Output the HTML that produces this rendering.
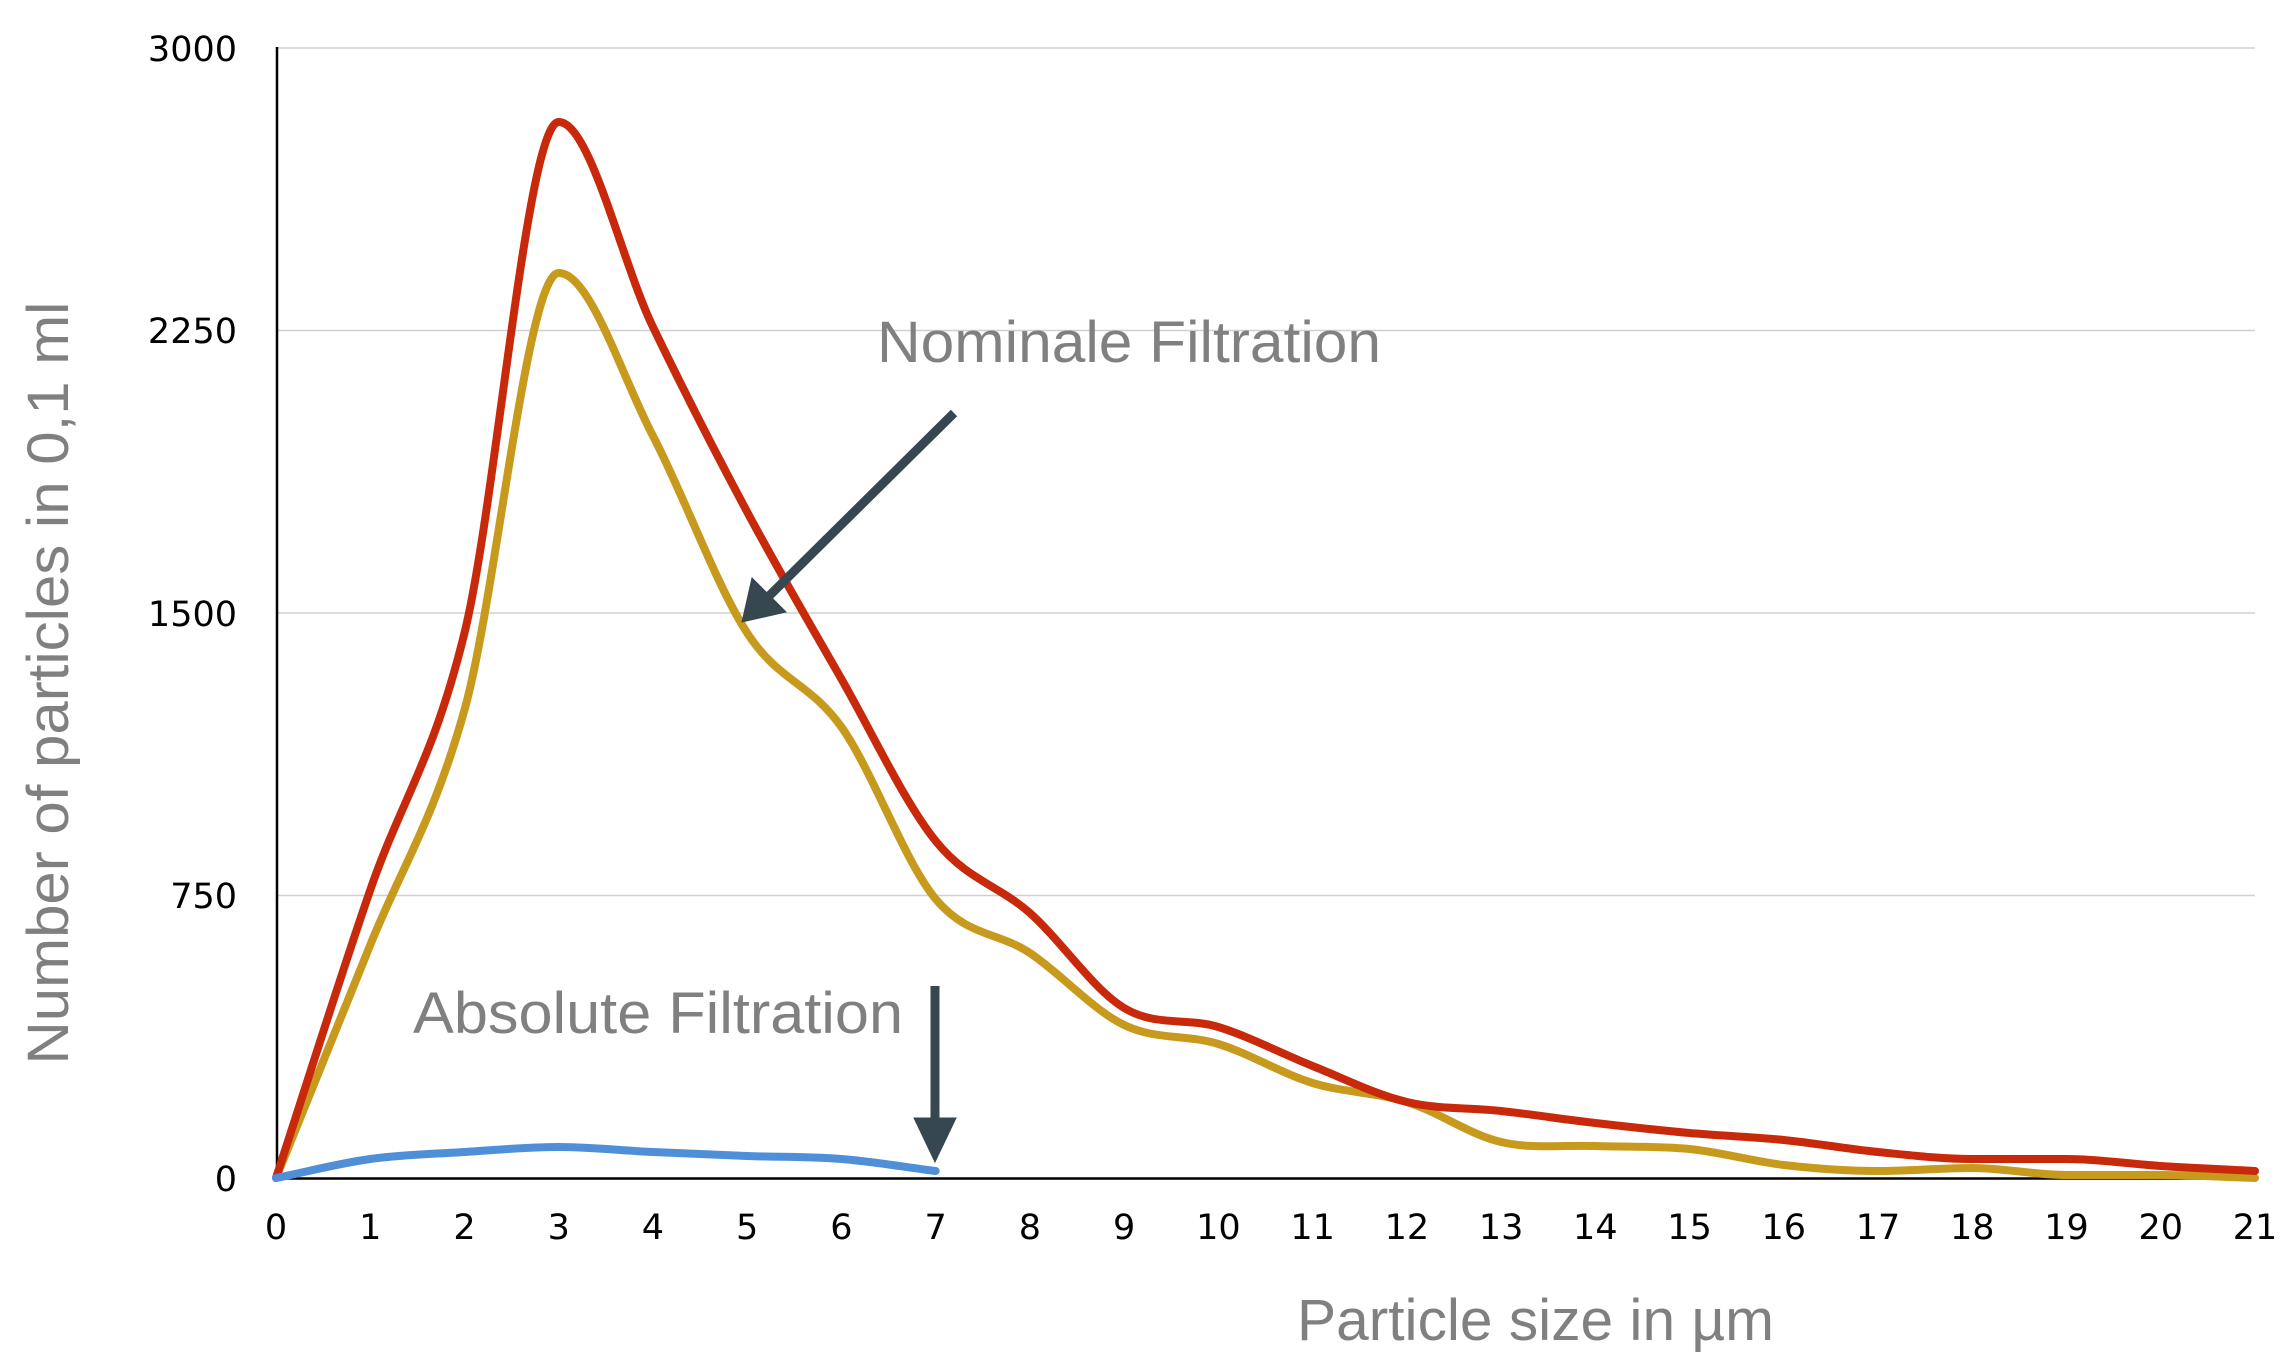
<!DOCTYPE html>
<html><head><meta charset="utf-8"><style>
html,body{margin:0;padding:0;background:#fff;}
svg{display:block;}
</style></head><body>
<svg id="s" width="2280" height="1372" viewBox="0 0 2280 1372" xmlns="http://www.w3.org/2000/svg">
<g stroke="#d0d0d0" stroke-width="1.5">
<line x1="276" y1="48" x2="2255" y2="48"/>
<line x1="276" y1="330.5" x2="2255" y2="330.5"/>
<line x1="276" y1="613" x2="2255" y2="613"/>
<line x1="276" y1="895.5" x2="2255" y2="895.5"/>
</g>
<line x1="277" y1="47" x2="277" y2="1179" stroke="#000" stroke-width="2.5"/>
<line x1="276" y1="1178.5" x2="2256" y2="1178.5" stroke="#000" stroke-width="2.5"/>
<g font-family="DejaVu Sans, sans-serif" font-size="35" fill="#000" text-anchor="end">
<text x="237" y="61">3000</text>
<text x="237" y="343">2250</text>
<text x="237" y="626">1500</text>
<text x="237" y="908">750</text>
<text x="237" y="1191">0</text>
</g>
<g id="xt" font-family="DejaVu Sans, sans-serif" font-size="35" fill="#000" text-anchor="middle"></g>
<text transform="translate(68,683) rotate(-90)" font-family="Liberation Sans, sans-serif" font-size="58" fill="#808080" text-anchor="middle" textLength="763" lengthAdjust="spacingAndGlyphs">Number of particles in 0,1 ml</text>
<text x="1297" y="1340" font-family="Liberation Sans, sans-serif" font-size="58" fill="#808080" textLength="477" lengthAdjust="spacingAndGlyphs">Particle size in µm</text>
<text x="877" y="362" font-family="Liberation Sans, sans-serif" font-size="58" fill="#808080" textLength="504" lengthAdjust="spacingAndGlyphs">Nominale Filtration</text>
<text x="413" y="1033" font-family="Liberation Sans, sans-serif" font-size="58" fill="#808080" textLength="490" lengthAdjust="spacingAndGlyphs">Absolute Filtration</text>
<path id="gold" fill="none" stroke="#c79a1e" stroke-width="8" stroke-linejoin="round" stroke-linecap="round"/>
<path id="red" fill="none" stroke="#c8290a" stroke-width="8" stroke-linejoin="round" stroke-linecap="round"/>
<path id="blue" fill="none" stroke="#4f8fd8" stroke-width="8" stroke-linejoin="round" stroke-linecap="round"/>
<g fill="#37474f" stroke="#37474f">
<line x1="954" y1="413" x2="766" y2="599" stroke-width="9"/>
<polygon points="742,622 752,578 786,612" stroke-width="1"/>
<line x1="935" y1="986" x2="935" y2="1125" stroke-width="9"/>
<polygon points="935,1162 914,1118 956,1118" stroke-width="1"/>
</g>
</svg>
<script>
var X=[];for(var i=0;i<22;i++)X.push(276+i*(2255-276)/21);
var R=[1178,890,633,122,327,512,679,841,913,1008,1027,1066,1102,1111,1123,1133,1140,1152,1159,1159,1166,1171];
var G=[1178,945,710,273,436,633,727,899,953,1025,1044,1083,1102,1142,1146,1149,1165,1171,1168,1175,1175,1178];
var B=[1178,1159,1152,1147,1152,1156,1159,1171];
function cr(ys){var p=ys.map(function(y,i){return [X[i],y]});var d="M"+p[0][0]+","+p[0][1];
var n=p.length,m=[];
for(var i=0;i<n;i++){var a=p[i-1]||p[i],b=p[i+1]||p[i];m.push((b[1]-a[1])/(b[0]-a[0]));}
for(var i=0;i<n-1;i++){var s=(p[i+1][1]-p[i][1])/(p[i+1][0]-p[i][0]);
if(i>0&&((p[i][1]-p[i-1][1])*(p[i+1][1]-p[i][1])<=0))m[i]=0;}
for(var i=0;i<n-1;i++){var h=p[i+1][0]-p[i][0];
d+=" C"+(p[i][0]+h/3)+","+(p[i][1]+m[i]*h/3)+" "+(p[i+1][0]-h/3)+","+(p[i+1][1]-m[i+1]*h/3)+" "+p[i+1][0]+","+p[i+1][1];}
return d;}
document.getElementById("red").setAttribute("d",cr(R));
document.getElementById("gold").setAttribute("d",cr(G));
document.getElementById("blue").setAttribute("d",cr(B));
var g=document.getElementById("xt"),ns="http://www.w3.org/2000/svg";
for(var i=0;i<22;i++){var t=document.createElementNS(ns,"text");t.setAttribute("x",X[i]);t.setAttribute("y",1239);t.textContent=i;g.appendChild(t);}
</script>
</body></html>
